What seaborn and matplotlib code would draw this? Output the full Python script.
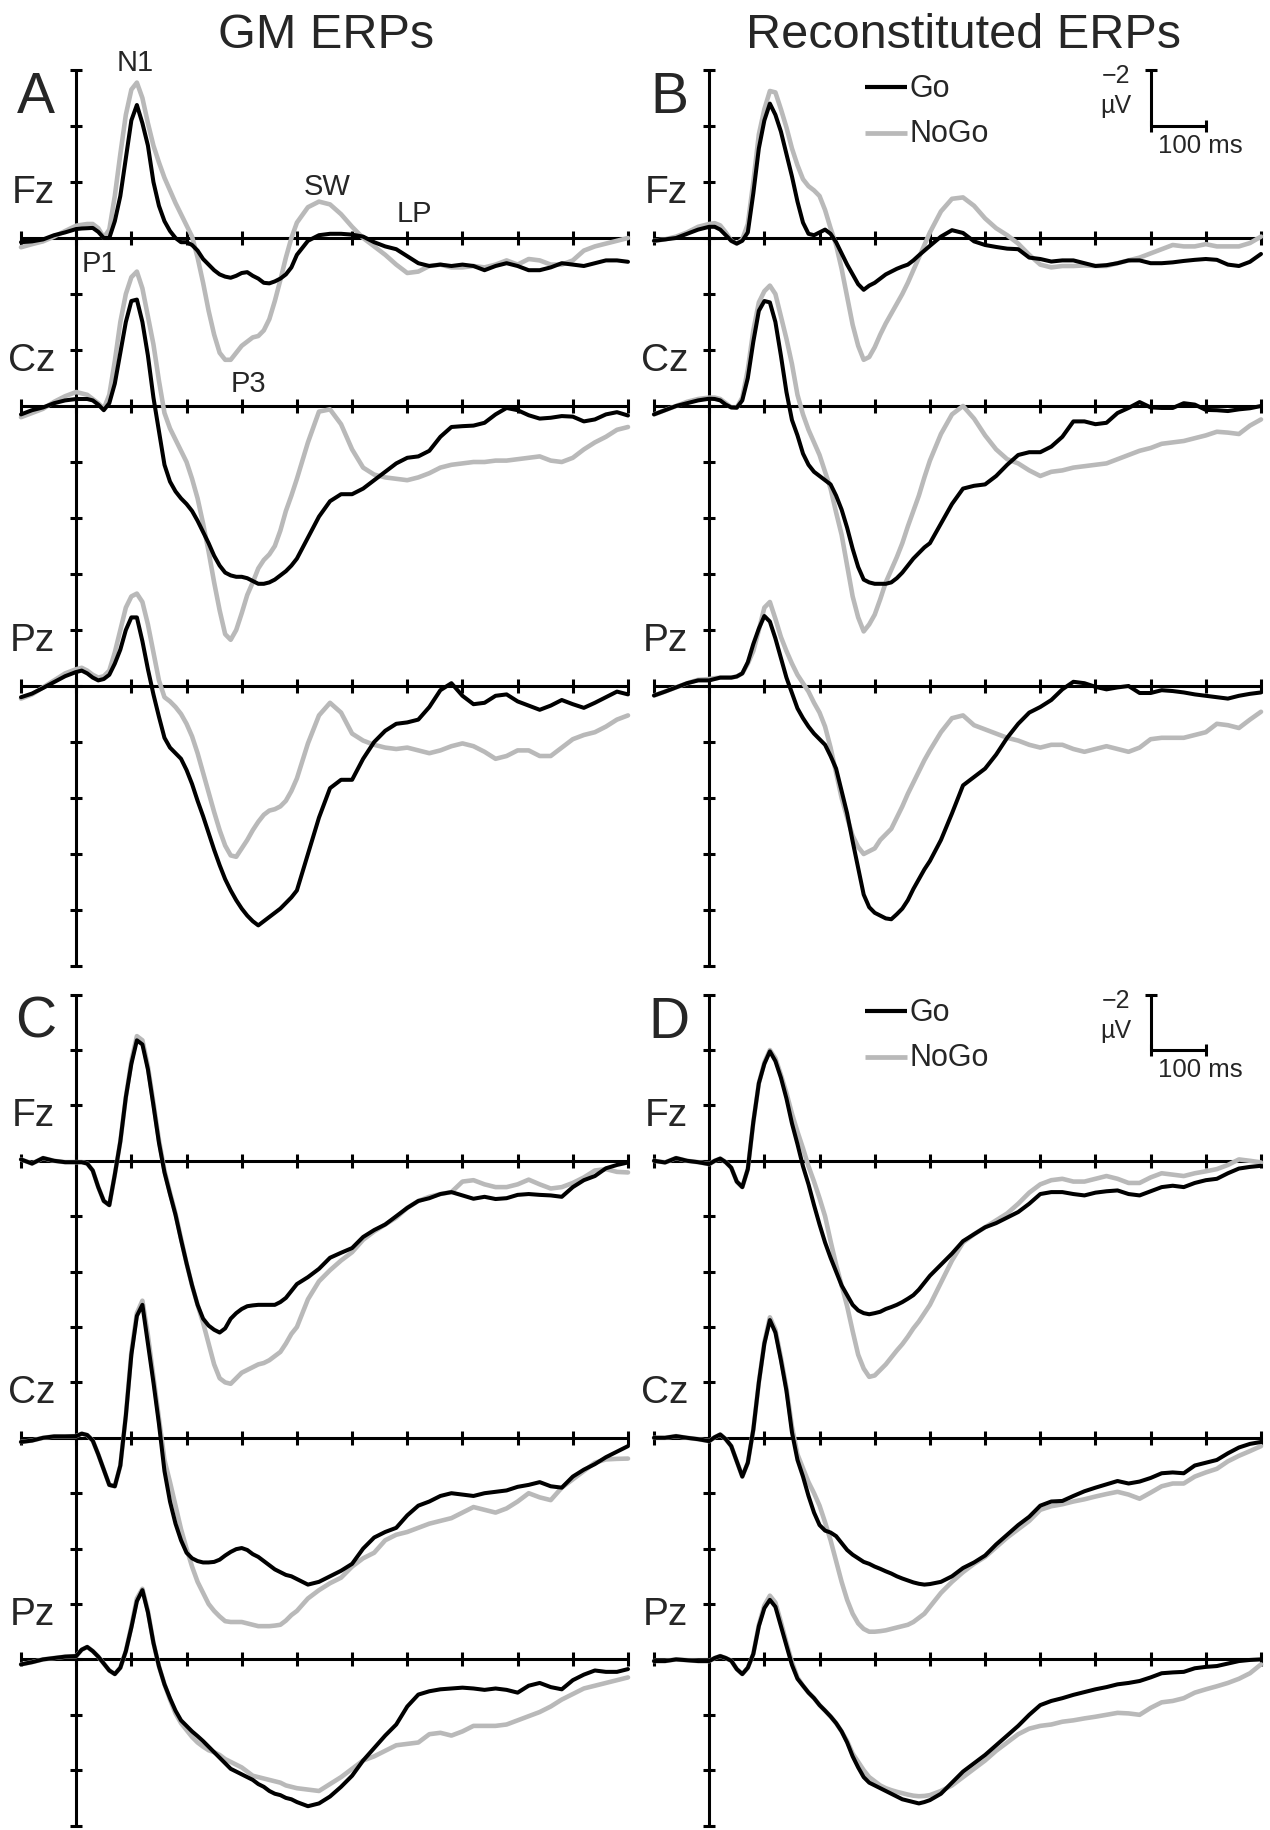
import numpy as np
import matplotlib
matplotlib.use("Agg")
import matplotlib.pyplot as plt
import seaborn as sns

# ---------------- data (µV, negative plotted upward) ----------------
T_MS = np.r_[-100:0:20, 0:400:10, 400:1001:20]

CHANNELS = ["Fz", "Cz", "Pz"]
CONDITIONS = ["Go", "NoGo"]
TITLES = ["GM ERPs", "Reconstituted ERPs"]
PANEL_LETTERS = ["A", "B", "C", "D"]
COMPONENTS = ["N1", "P1", "SW", "LP", "P3"]
X_TICKS = list(range(-100, 1001, 100))

A_FZ_GO = [0.15, 0.12, 0.05, -0.1, -0.2,
           -0.32, -0.34, -0.35, -0.36, -0.22, 0.0, 0.0, -0.6, -1.5, -2.85,
           -4.2, -4.75, -4.1, -3.3, -2.0, -1.15, -0.6, -0.25, 0.0, 0.15,
           0.15, 0.25, 0.45, 0.75, 0.95, 1.15, 1.3, 1.38, 1.42, 1.35,
           1.25, 1.22, 1.35, 1.45, 1.6, 1.62, 1.55, 1.45, 1.3, 1.05,
           0.6, 0.1, -0.1, -0.15, -0.15, -0.12, -0.05, 0.15, 0.3, 0.4,
           0.65, 0.9, 1.0, 0.95, 1.0, 0.95, 1.0, 1.15, 1.0, 0.9,
           1.0, 1.15, 1.15, 1.05, 0.9, 0.95, 1.0, 0.9, 0.8, 0.8, 0.85]
A_FZ_NOGO = [0.33, 0.22, 0.12, -0.05, -0.25,
             -0.44, -0.47, -0.5, -0.5, -0.35, -0.02, -0.3, -1.5, -3.0, -4.4,
             -5.3, -5.55, -5.0, -4.1, -3.3, -2.7, -2.15, -1.7, -1.25, -0.85,
             -0.45, -0.05, 0.7, 1.6, 2.6, 3.45, 4.1, 4.35, 4.35, 4.1,
             3.85, 3.7, 3.55, 3.5, 3.3, 2.9, 2.25, 1.5, 0.7, 0.0,
             -0.55, -1.1, -1.3, -1.2, -0.85, -0.4, 0.0, 0.3, 0.6, 0.95,
             1.25, 1.2, 1.0, 0.95, 1.05, 1.05, 1.0, 1.05, 0.95, 0.8,
             0.95, 0.75, 0.8, 0.95, 0.95, 0.8, 0.45, 0.3, 0.2, 0.1, 0.0]
A_CZ_GO = [0.3, 0.15, 0.05, -0.1, -0.2,
           -0.25, -0.25, -0.25, -0.2, -0.05, 0.15, -0.1, -0.8, -1.9, -3.0,
           -3.75, -3.8, -3.0, -1.8, -0.3, 0.9, 2.1, 2.7, 3.05, 3.3,
           3.5, 3.75, 4.1, 4.5, 4.9, 5.35, 5.7, 5.95, 6.05, 6.1,
           6.1, 6.15, 6.25, 6.35, 6.35, 6.3, 6.2, 6.05, 5.9, 5.7,
           5.45, 4.7, 3.95, 3.4, 3.15, 3.15, 2.95, 2.65, 2.35, 2.05,
           1.85, 1.8, 1.6, 1.1, 0.75, 0.72, 0.7, 0.6, 0.3, 0.07,
           0.15, 0.33, 0.45, 0.42, 0.36, 0.38, 0.55, 0.48, 0.3, 0.22, 0.34]
A_CZ_NOGO = [0.4, 0.25, 0.1, -0.15, -0.35,
             -0.5, -0.45, -0.4, -0.25, -0.1, 0.1, -0.4, -1.6, -3.0, -4.0,
             -4.6, -4.8, -4.2, -3.2, -2.2, -0.9, 0.25, 0.8, 1.2, 1.6,
             2.0, 2.6, 3.3, 4.2, 5.2, 6.3, 7.3, 8.15, 8.35, 8.0,
             7.4, 6.75, 6.3, 5.8, 5.5, 5.3, 5.0, 4.45, 3.75, 3.2,
             2.6, 1.3, 0.2, 0.12, 0.65, 1.55, 2.2, 2.45, 2.55, 2.6,
             2.65, 2.55, 2.4, 2.2, 2.1, 2.05, 2.0, 2.0, 1.95, 1.95,
             1.9, 1.85, 1.8, 1.95, 2.0, 1.85, 1.55, 1.3, 1.1, 0.85, 0.75]
A_PZ_GO = [0.4, 0.27, 0.07, -0.14, -0.35,
           -0.5, -0.55, -0.45, -0.3, -0.2, -0.25, -0.4, -0.8, -1.3, -2.0,
           -2.45, -2.45, -1.6, -0.6, 0.3, 1.1, 1.85, 2.2, 2.4, 2.6,
           3.0, 3.5, 4.1, 4.65, 5.25, 5.85, 6.4, 6.9, 7.3, 7.65,
           7.95, 8.2, 8.4, 8.55, 8.4, 8.25, 8.1, 7.95, 7.75, 7.55,
           7.3, 6.0, 4.7, 3.65, 3.35, 3.35, 2.6, 2.0, 1.6, 1.35,
           1.3, 1.2, 0.75, 0.15, -0.1, 0.35, 0.65, 0.6, 0.35, 0.3,
           0.55, 0.7, 0.85, 0.7, 0.5, 0.65, 0.78, 0.6, 0.4, 0.2, 0.3]
A_PZ_NOGO = [0.45, 0.3, 0.05, -0.2, -0.45,
             -0.6, -0.65, -0.55, -0.4, -0.3, -0.35, -0.55, -1.2, -2.0, -2.8,
             -3.2, -3.3, -3.0, -2.2, -1.2, -0.2, 0.4, 0.55, 0.75, 1.0,
             1.35, 1.8, 2.4, 3.1, 3.8, 4.5, 5.15, 5.7, 6.05, 6.1,
             5.8, 5.5, 5.15, 4.85, 4.6, 4.45, 4.4, 4.3, 4.1, 3.75,
             3.3, 2.05, 1.05, 0.6, 0.95, 1.7, 1.95, 2.1, 2.2, 2.25,
             2.2, 2.3, 2.4, 2.3, 2.15, 2.05, 2.15, 2.35, 2.6, 2.5,
             2.3, 2.3, 2.5, 2.5, 2.2, 1.9, 1.75, 1.65, 1.45, 1.2, 1.05]

B_FZ_GO = [0.1, 0.05, 0.0, -0.15, -0.3,
           -0.4, -0.4, -0.3, -0.1, 0.1, 0.2, 0.1, -0.2, -1.6, -3.2,
           -4.2, -4.8, -4.4, -3.8, -3.0, -2.2, -1.3, -0.55, -0.15, -0.1,
           -0.2, -0.3, -0.15, 0.15, 0.55, 0.95, 1.3, 1.65, 1.85, 1.7,
           1.6, 1.45, 1.3, 1.2, 1.1, 1.02, 0.95, 0.8, 0.62, 0.45,
           0.28, -0.05, -0.28, -0.18, 0.12, 0.25, 0.32, 0.38, 0.4, 0.7,
           0.75, 0.84, 0.8, 0.8, 0.9, 1.0, 0.97, 0.9, 0.8, 0.8,
           0.9, 0.9, 0.87, 0.82, 0.78, 0.75, 0.78, 0.95, 1.0, 0.85, 0.57]
B_FZ_NOGO = [0.1, 0.05, -0.05, -0.2, -0.4,
             -0.5, -0.53, -0.45, -0.2, 0.1, 0.2, 0.05, -0.5, -2.0, -3.7,
             -4.6, -5.25, -5.2, -4.6, -3.95, -3.2, -2.6, -2.1, -1.85, -1.7,
             -1.5, -1.0, -0.35, 0.25, 1.1, 2.1, 3.1, 3.85, 4.35, 4.25,
             3.9, 3.45, 3.05, 2.7, 2.35, 2.0, 1.6, 1.15, 0.7, 0.25,
             -0.2, -0.95, -1.4, -1.45, -1.15, -0.7, -0.35, -0.1, 0.2, 0.6,
             0.95, 1.05, 1.0, 1.0, 0.98, 1.0, 1.0, 0.9, 0.8, 0.7,
             0.55, 0.4, 0.25, 0.3, 0.3, 0.22, 0.3, 0.3, 0.3, 0.18, -0.05]
B_CZ_GO = [0.3, 0.15, 0.0, -0.1, -0.2,
           -0.26, -0.25, -0.2, -0.05, 0.05, 0.06, -0.2, -1.0, -2.3, -3.4,
           -3.75, -3.7, -3.0, -1.8, -0.5, 0.5, 1.05, 1.7, 2.1, 2.35,
           2.5, 2.65, 2.8, 3.2, 3.7, 4.35, 5.1, 5.75, 6.2, 6.3,
           6.35, 6.35, 6.35, 6.3, 6.15, 5.95, 5.7, 5.45, 5.25, 5.05,
           4.9, 4.2, 3.5, 2.95, 2.85, 2.8, 2.5, 2.1, 1.75, 1.65,
           1.65, 1.45, 1.1, 0.55, 0.55, 0.65, 0.6, 0.25, 0.07, -0.14,
           0.05, 0.07, 0.07, -0.1, -0.05, 0.14, 0.15, 0.18, 0.12, 0.08, 0.0]
B_CZ_NOGO = [0.3, 0.15, 0.0, -0.15, -0.25,
             -0.3, -0.3, -0.25, -0.1, 0.05, 0.06, -0.3, -1.3, -2.7, -3.7,
             -4.1, -4.3, -4.0, -3.2, -2.4, -1.5, -0.4, 0.3, 0.85, 1.3,
             1.75, 2.35, 2.95, 3.8, 4.6, 5.7, 6.8, 7.55, 8.05, 7.8,
             7.45, 6.9, 6.3, 5.85, 5.4, 4.9, 4.3, 3.75, 3.2, 2.55,
             1.95, 1.0, 0.3, 0.0, 0.45, 1.05, 1.55, 1.9, 2.05, 2.3,
             2.5, 2.35, 2.3, 2.2, 2.15, 2.1, 2.05, 1.9, 1.75, 1.6,
             1.5, 1.35, 1.3, 1.25, 1.15, 1.05, 0.92, 0.95, 1.0, 0.7, 0.48]
B_PZ_GO = [0.34, 0.2, 0.05, -0.1, -0.2,
           -0.2, -0.25, -0.3, -0.3, -0.3, -0.34, -0.45, -0.85, -1.5, -2.05,
           -2.5, -2.3, -1.7, -1.0, -0.3, 0.25, 0.8, 1.15, 1.45, 1.7,
           1.9, 2.1, 2.5, 2.95, 3.75, 4.55, 5.55, 6.5, 7.45, 7.9,
           8.1, 8.2, 8.3, 8.33, 8.15, 7.95, 7.65, 7.25, 6.9, 6.55,
           6.25, 5.5, 4.55, 3.55, 3.25, 2.95, 2.45, 1.85, 1.35, 0.95,
           0.75, 0.5, 0.12, -0.15, -0.1, 0.03, 0.12, 0.05, 0.0, 0.25,
           0.25, 0.15, 0.18, 0.23, 0.3, 0.35, 0.4, 0.45, 0.35, 0.28, 0.23]
B_PZ_NOGO = [0.34, 0.2, 0.05, -0.1, -0.22,
             -0.25, -0.28, -0.3, -0.3, -0.3, -0.34, -0.45, -0.8, -1.25, -2.0,
             -2.8, -3.0, -2.4, -1.75, -1.25, -0.8, -0.4, -0.1, 0.2, 0.6,
             0.95, 1.45, 2.2, 3.1, 4.0, 4.7, 5.35, 5.75, 6.0, 5.9,
             5.8, 5.5, 5.3, 5.1, 4.7, 4.3, 3.85, 3.45, 3.05, 2.65,
             2.3, 1.65, 1.15, 1.05, 1.4, 1.55, 1.7, 1.85, 1.95, 2.1,
             2.2, 2.1, 2.1, 2.25, 2.35, 2.25, 2.15, 2.25, 2.35, 2.2,
             1.9, 1.85, 1.85, 1.85, 1.75, 1.65, 1.35, 1.4, 1.5, 1.2, 0.92]

C_FZ_GO = [-0.05, 0.1, -0.1, 0.0, 0.05,
           0.05, 0.05, 0.1, 0.35, 0.95, 1.45, 1.6, 0.5, -0.7, -2.3,
           -3.5, -4.35, -4.2, -3.3, -2.0, -0.65, 0.42, 1.2, 1.95, 2.85,
           3.7, 4.5, 5.2, 5.7, 5.95, 6.1, 6.2, 6.05, 5.7, 5.5,
           5.35, 5.25, 5.22, 5.2, 5.2, 5.2, 5.2, 5.1, 4.95, 4.7,
           4.45, 4.2, 3.9, 3.5, 3.32, 3.15, 2.75, 2.5, 2.3, 2.0,
           1.7, 1.45, 1.35, 1.2, 1.13, 1.25, 1.37, 1.3, 1.38, 1.35,
           1.23, 1.2, 1.23, 1.25, 1.3, 0.95, 0.7, 0.55, 0.27, 0.15, 0.06]
C_FZ_NOGO = [-0.05, 0.1, -0.1, 0.0, 0.05,
             0.05, 0.05, 0.1, 0.35, 0.95, 1.45, 1.6, 0.5, -0.7, -2.3,
             -3.6, -4.5, -4.35, -3.4, -2.1, -0.75, 0.35, 1.15, 1.9, 2.8,
             3.7, 4.5, 5.2, 5.85, 6.6, 7.35, 7.85, 8.0, 8.05, 7.85,
             7.65, 7.55, 7.45, 7.35, 7.3, 7.2, 7.05, 6.9, 6.6, 6.25,
             6.0, 5.0, 4.35, 3.95, 3.6, 3.3, 2.85, 2.55, 2.3, 2.05,
             1.7, 1.45, 1.3, 1.2, 1.13, 0.75, 0.7, 0.85, 0.95, 0.95,
             0.85, 0.68, 0.85, 1.0, 0.95, 0.8, 0.6, 0.35, 0.3, 0.4, 0.42]
C_CZ_GO = [0.15, 0.1, 0.0, -0.05, -0.05,
           -0.06, -0.15, -0.1, 0.1, 0.6, 1.15, 1.7, 1.75, 1.0, -0.8,
           -3.0, -4.4, -4.8, -3.4, -2.0, -0.5, 1.2, 2.3, 3.1, 3.7,
           4.15, 4.35, 4.45, 4.5, 4.5, 4.48, 4.4, 4.25, 4.12, 4.02,
           3.98, 4.05, 4.2, 4.3, 4.45, 4.6, 4.75, 4.85, 4.95, 5.0,
           5.1, 5.3, 5.2, 5.0, 4.8, 4.55, 4.0, 3.6, 3.4, 3.25,
           2.8, 2.45, 2.3, 2.1, 2.0, 2.05, 2.1, 2.0, 1.95, 1.9,
           1.77, 1.7, 1.6, 1.75, 1.8, 1.4, 1.15, 0.95, 0.7, 0.5, 0.3]
C_CZ_NOGO = [0.15, 0.1, 0.0, -0.05, -0.05,
             -0.06, -0.15, -0.1, 0.1, 0.6, 1.15, 1.7, 1.75, 1.0, -0.8,
             -3.1, -4.5, -4.95, -3.7, -2.2, -0.7, 0.8, 1.6, 2.45, 3.3,
             4.0, 4.65, 5.2, 5.6, 6.0, 6.25, 6.45, 6.62, 6.65, 6.65,
             6.65, 6.7, 6.75, 6.8, 6.8, 6.8, 6.78, 6.75, 6.6, 6.4,
             6.25, 5.8, 5.5, 5.25, 5.05, 4.65, 4.35, 4.15, 3.7, 3.5,
             3.4, 3.25, 3.1, 3.0, 2.9, 2.7, 2.5, 2.6, 2.7, 2.55,
             2.3, 2.0, 2.15, 2.25, 1.8, 1.5, 1.2, 0.9, 0.78, 0.76, 0.75]
C_PZ_GO = [0.18, 0.1, 0.0, -0.05, -0.1,
           -0.12, -0.35, -0.45, -0.3, -0.1, 0.15, 0.4, 0.53, 0.3, -0.3,
           -1.15, -2.1, -2.5, -1.7, -0.6, 0.25, 0.9, 1.4, 1.85, 2.2,
           2.4, 2.6, 2.77, 2.95, 3.15, 3.35, 3.55, 3.75, 3.95, 4.05,
           4.15, 4.25, 4.35, 4.5, 4.6, 4.75, 4.85, 4.9, 5.0, 5.05,
           5.15, 5.3, 5.2, 4.95, 4.6, 4.2, 3.65, 3.2, 2.75, 2.35,
           1.7, 1.27, 1.15, 1.08, 1.05, 1.02, 1.05, 1.1, 1.05, 1.1,
           1.2, 0.95, 0.85, 1.0, 1.08, 0.75, 0.55, 0.4, 0.45, 0.45, 0.35]
C_PZ_NOGO = [0.18, 0.1, 0.0, -0.05, -0.1,
             -0.12, -0.35, -0.45, -0.3, -0.1, 0.15, 0.4, 0.53, 0.3, -0.3,
             -1.2, -2.2, -2.55, -1.75, -0.6, 0.25, 0.9, 1.45, 1.95, 2.3,
             2.55, 2.8, 3.0, 3.15, 3.28, 3.35, 3.45, 3.6, 3.7, 3.8,
             3.9, 4.05, 4.2, 4.25, 4.3, 4.35, 4.4, 4.45, 4.55, 4.6,
             4.65, 4.7, 4.75, 4.5, 4.25, 3.95, 3.65, 3.5, 3.3, 3.1,
             3.05, 3.0, 2.7, 2.65, 2.75, 2.6, 2.4, 2.4, 2.4, 2.35,
             2.2, 2.05, 1.9, 1.7, 1.45, 1.25, 1.05, 0.95, 0.85, 0.75, 0.65]

D_FZ_GO = [0.0, 0.06, -0.1, 0.0, 0.05,
           0.12, 0.0, -0.08, 0.05, 0.25, 0.75, 0.95, 0.3, -1.4, -2.8,
           -3.5, -3.95, -3.6, -3.0, -2.25, -1.35, -0.6, 0.2, 0.85, 1.6,
           2.3, 2.95, 3.5, 4.0, 4.5, 4.85, 5.2, 5.4, 5.5, 5.54,
           5.5, 5.45, 5.35, 5.28, 5.2, 5.1, 4.98, 4.85, 4.65, 4.4,
           4.15, 3.75, 3.35, 2.9, 2.65, 2.4, 2.25, 2.05, 1.85, 1.55,
           1.2, 1.13, 1.13, 1.2, 1.25, 1.15, 1.1, 1.07, 1.2, 1.25,
           1.1, 0.95, 0.9, 0.95, 0.8, 0.7, 0.65, 0.45, 0.28, 0.22, 0.18]
D_FZ_NOGO = [0.0, 0.06, -0.1, 0.0, 0.05,
             0.12, 0.0, -0.08, 0.05, 0.25, 0.75, 0.95, 0.3, -1.4, -2.8,
             -3.55, -4.0, -3.7, -3.1, -2.45, -1.7, -1.05, -0.45, 0.2, 0.75,
             1.35, 2.0, 2.9, 3.75, 4.5, 5.25, 6.15, 7.0, 7.5, 7.8,
             7.75, 7.55, 7.35, 7.1, 6.85, 6.62, 6.35, 6.05, 5.8, 5.5,
             5.2, 4.4, 3.6, 2.95, 2.65, 2.4, 2.15, 1.9, 1.55, 1.15,
             0.85, 0.7, 0.65, 0.75, 0.75, 0.65, 0.55, 0.65, 0.8, 0.8,
             0.6, 0.45, 0.5, 0.55, 0.45, 0.38, 0.3, 0.15, -0.05, 0.0, 0.06]
D_CZ_GO = [0.0, 0.0, -0.06, 0.0, 0.05,
           0.12, -0.02, -0.12, 0.05, 0.3, 0.85, 1.4, 0.9, -0.3, -2.0,
           -3.4, -4.25, -3.8, -2.8, -1.7, -0.2, 0.8, 1.4, 2.1, 2.7,
           3.15, 3.35, 3.42, 3.55, 3.8, 4.05, 4.22, 4.35, 4.48, 4.55,
           4.65, 4.73, 4.82, 4.9, 5.0, 5.08, 5.15, 5.22, 5.27, 5.3,
           5.28, 5.2, 5.0, 4.7, 4.5, 4.25, 3.85, 3.5, 3.15, 2.85,
           2.45, 2.3, 2.28, 2.1, 1.93, 1.8, 1.68, 1.56, 1.65, 1.58,
           1.45, 1.28, 1.25, 1.28, 1.0, 0.9, 0.8, 0.56, 0.35, 0.22, 0.15]
D_CZ_NOGO = [0.0, 0.0, -0.06, 0.0, 0.05,
             0.12, -0.02, -0.12, 0.05, 0.3, 0.85, 1.4, 0.9, -0.3, -2.0,
             -3.45, -4.35, -3.9, -2.9, -1.8, -0.4, 0.6, 1.1, 1.6, 2.0,
             2.45, 3.05, 3.7, 4.45, 5.2, 5.85, 6.35, 6.7, 6.9, 7.0,
             7.0, 6.98, 6.95, 6.9, 6.85, 6.8, 6.75, 6.65, 6.5, 6.35,
             6.1, 5.6, 5.2, 4.85, 4.55, 4.3, 3.95, 3.6, 3.3, 3.0,
             2.6, 2.47, 2.4, 2.3, 2.22, 2.12, 2.03, 1.95, 2.05, 2.2,
             1.98, 1.75, 1.65, 1.65, 1.4, 1.25, 1.12, 0.85, 0.65, 0.48, 0.3]
D_PZ_GO = [0.06, 0.06, 0.0, 0.03, 0.06,
           0.06, -0.05, -0.12, -0.05, 0.05, 0.35, 0.53, 0.3, -0.2, -1.2,
           -1.85, -2.15, -1.9, -1.2, -0.5, 0.2, 0.7, 0.95, 1.2, 1.4,
           1.65, 1.85, 2.06, 2.3, 2.6, 3.0, 3.5, 3.9, 4.25, 4.45,
           4.55, 4.65, 4.75, 4.85, 4.95, 5.05, 5.1, 5.15, 5.2, 5.15,
           5.08, 4.85, 4.45, 4.05, 3.75, 3.45, 3.1, 2.75, 2.4, 2.0,
           1.65, 1.5, 1.4, 1.28, 1.18, 1.08, 1.0, 0.9, 0.85, 0.78,
           0.65, 0.5, 0.47, 0.45, 0.32, 0.27, 0.24, 0.15, 0.06, 0.02, 0.0]
D_PZ_NOGO = [0.06, 0.06, 0.0, 0.03, 0.06,
             0.06, -0.05, -0.12, -0.05, 0.05, 0.35, 0.53, 0.3, -0.2, -1.25,
             -1.95, -2.3, -2.05, -1.35, -0.6, 0.1, 0.65, 0.95, 1.2, 1.4,
             1.65, 1.85, 2.06, 2.3, 2.6, 2.95, 3.4, 3.7, 4.0, 4.25,
             4.4, 4.55, 4.65, 4.72, 4.78, 4.83, 4.88, 4.92, 4.94, 4.93,
             4.9, 4.75, 4.55, 4.25, 3.95, 3.65, 3.3, 3.0, 2.7, 2.5,
             2.4, 2.35, 2.25, 2.2, 2.13, 2.07, 2.0, 1.93, 1.95, 2.0,
             1.75, 1.55, 1.5, 1.4, 1.2, 1.08, 0.97, 0.85, 0.7, 0.5, 0.18]

SERIES = {
    "A": {"Fz": (A_FZ_GO, A_FZ_NOGO), "Cz": (A_CZ_GO, A_CZ_NOGO), "Pz": (A_PZ_GO, A_PZ_NOGO)},
    "B": {"Fz": (B_FZ_GO, B_FZ_NOGO), "Cz": (B_CZ_GO, B_CZ_NOGO), "Pz": (B_PZ_GO, B_PZ_NOGO)},
    "C": {"Fz": (C_FZ_GO, C_FZ_NOGO), "Cz": (C_CZ_GO, C_CZ_NOGO), "Pz": (C_PZ_GO, C_PZ_NOGO)},
    "D": {"Fz": (D_FZ_GO, D_FZ_NOGO), "Cz": (D_CZ_GO, D_CZ_NOGO), "Pz": (D_PZ_GO, D_PZ_NOGO)},
}

# ---------------- style / layout ----------------
sns.set_theme(style="white")
plt.rcParams["font.family"] = ["Liberation Sans", "DejaVu Sans"]

W, H = 1270, 1830
BLACK = "#000000"
GRAY = "#b9b9b9"
AX_LW = 2.2
fig = plt.figure(figsize=(W / 100, H / 100), dpi=100)

def add_ax(x0, x1, y0, y1):
    return fig.add_axes([x0 / W, 1 - y1 / H, (x1 - x0) / W, (y1 - y0) / H])

LAYOUT = {
    "A": dict(box=(21, 628, 70, 966), offsets=(0, 6, 16), top=-6, bottom=26),
    "B": dict(box=(654, 1261, 70, 966), offsets=(0, 6, 16), top=-6, bottom=26),
    "C": dict(box=(21, 628, 994.6, 1825.6), offsets=(0, 10, 18), top=-6, bottom=24),
    "D": dict(box=(654, 1261, 994.6, 1825.6), offsets=(0, 10, 18), top=-6, bottom=24),
}

for letter in PANEL_LETTERS:
    cfg = LAYOUT[letter]
    ax = add_ax(*cfg["box"])
    ax.set_xlim(-100, 1000)
    ax.set_ylim(cfg["bottom"], cfg["top"])
    ax.axis("off")

    # baselines with ticks
    for off in cfg["offsets"]:
        ax.plot([-100, 1000], [off, off], color=BLACK, lw=AX_LW, clip_on=False,
                solid_capstyle="butt", zorder=2)
        ax.plot(X_TICKS, [off] * len(X_TICKS), ls="none", marker="|", ms=9.5,
                mew=AX_LW, color=BLACK, clip_on=False, zorder=2)
    # vertical axis at stimulus onset
    yt = np.arange(cfg["top"], cfg["bottom"] + 0.01, 2)
    ax.plot([0, 0], [cfg["top"], cfg["bottom"]], color=BLACK, lw=AX_LW,
            clip_on=False, solid_capstyle="butt", zorder=2)
    ax.plot(np.zeros(len(yt)), yt, ls="none", marker="_", ms=9, mew=AX_LW,
            color=BLACK, clip_on=False, zorder=2)

    # traces
    n_before = len(ax.lines)
    for chan, off in zip(CHANNELS, cfg["offsets"]):
        go, nogo = SERIES[letter][chan]
        sns.lineplot(x=T_MS, y=np.asarray(nogo) + off, color=GRAY, lw=3.3,
                     estimator=None, sort=False, ax=ax, zorder=3)
        sns.lineplot(x=T_MS, y=np.asarray(go) + off, color=BLACK, lw=2.9,
                     estimator=None, sort=False, ax=ax, zorder=4)
        ax.text(-38, off - 1.25, chan, ha="right", va="baseline", fontsize=28)
    for ln in ax.lines[n_before:]:
        ln.set_solid_joinstyle("round")
        ln.set_solid_capstyle("round")
    for ln in ax.lines:
        ln.set_clip_on(False)

    ax.text(-73, -4.45, letter, ha="center", va="baseline", fontsize=41)

    if letter == "A":
        comp_pos = [(107, -5.96), (41.5, 1.2), (455, -1.54), (612, -0.58), (312, 5.5)]
        for name, (cx, cy) in zip(COMPONENTS, comp_pos):
            ax.text(cx, cy, name, ha="center", va="baseline", fontsize=21)

    if letter in ("B", "D"):
        # legend
        ax.plot([282, 359], [-5.4, -5.4], color=BLACK, lw=3.0, clip_on=False,
                solid_capstyle="butt")
        ax.text(363, -5.05, CONDITIONS[0], ha="left", va="baseline", fontsize=22)
        ax.plot([282, 359], [-3.76, -3.76], color=GRAY, lw=3.4, clip_on=False,
                solid_capstyle="butt")
        ax.text(363, -3.44, CONDITIONS[1], ha="left", va="baseline", fontsize=22)
        # scale bar
        ax.plot([800, 800], [-6, -4], color=BLACK, lw=AX_LW, clip_on=False,
                solid_capstyle="butt")
        ax.plot([800, 900], [-4, -4], color=BLACK, lw=AX_LW, clip_on=False,
                solid_capstyle="butt")
        ax.plot([800], [-6], marker="_", ms=8, mew=AX_LW, color=BLACK, clip_on=False)
        ax.plot([900, 800], [-4, -4], ls="none", marker="|", ms=9, mew=AX_LW,
                color=BLACK, clip_on=False)
        ax.text(737, -5.52, "\u22122", ha="center", va="baseline", fontsize=18)
        ax.text(737, -4.45, "\u00b5V", ha="center", va="baseline", fontsize=18)
        ax.text(890, -3.03, "100 ms", ha="center", va="baseline", fontsize=18.5)

fig.text(326.5 / W, 1 - 48 / H, TITLES[0], ha="center", va="baseline", fontsize=35)
fig.text(964 / W, 1 - 48 / H, TITLES[1], ha="center", va="baseline", fontsize=35)

fig.savefig("out.png", dpi=100, facecolor="white")
